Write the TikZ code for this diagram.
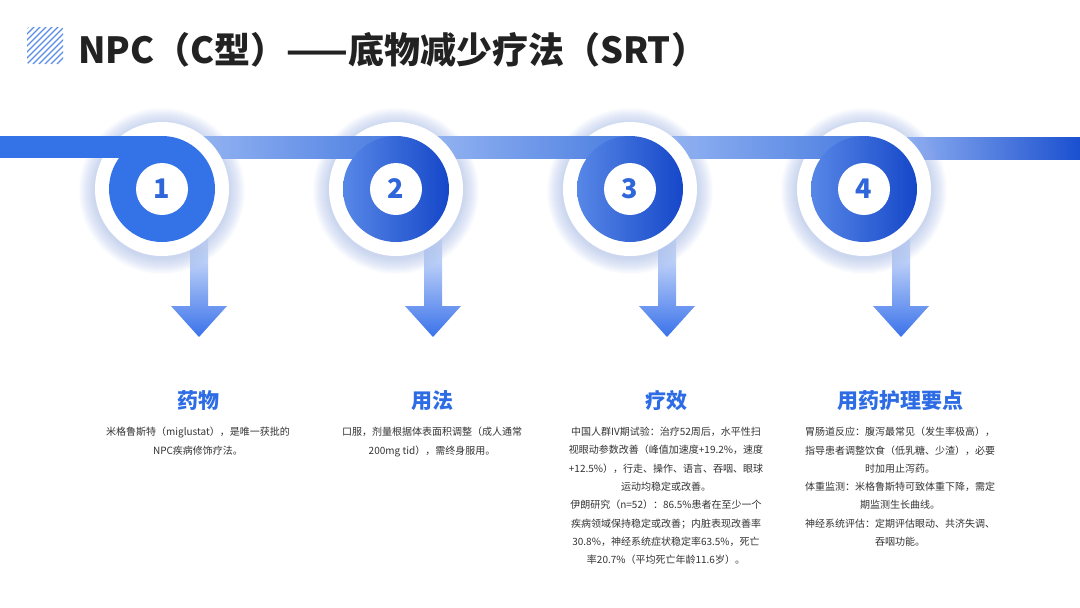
\documentclass[tikz,border=0pt]{standalone}
\usepackage{fontspec}
\setmainfont{Noto Sans CJK SC}
\usetikzlibrary{calc}
\definecolor{titlegray}{HTML}{222222}
\definecolor{bodygray}{HTML}{333333}
\definecolor{headblue}{HTML}{2D6CE4}
\definecolor{numblue}{HTML}{2F66DA}
\definecolor{iconblue}{HTML}{5B8EE6}
\definecolor{diskone}{HTML}{3472E8}
\definecolor{diskL}{HTML}{5787E6}
\definecolor{diskR}{HTML}{1547C9}
\definecolor{bandL}{HTML}{96B5F3}
\definecolor{bandR}{HTML}{4A7DE0}
\definecolor{bandEnd}{HTML}{1A4FCF}
\definecolor{glowc}{HTML}{9FB6EF}
\definecolor{arrTop}{HTML}{E8EFFD}
\definecolor{arrMid}{HTML}{A9C2F6}
\definecolor{arrBot}{HTML}{3A72EA}
\newcommand\myhalo[2]{%
  \foreach \r in {68,69,...,83} {\fill[glowc, fill opacity=0.038] (#1,#2+2) circle (\r pt);}
  \fill[white] (#1,#2) circle (67pt);
}
\begin{document}
\begin{tikzpicture}[x=1pt,y=-1pt,
  head/.style={inner sep=0, text=headblue, font=\fontsize{21}{21}\selectfont\bfseries},
  body/.style={inner sep=0, anchor=north, align=center, text=bodygray, font=\fontsize{10}{18.3}\selectfont},
  numnode/.style={circle, fill=white, minimum size=52pt, inner sep=0, text=numblue, font=\fontsize{27}{27}\selectfont\bfseries},
  arrowshape/.style={top color=arrTop, middle color=arrMid, bottom color=arrBot}]
\useasboundingbox (0,0) rectangle (1080,608);
\fill[white] (0,0) rectangle (1080,608);

% title icon
\begin{scope}
\clip[rounded corners=1.5pt] (27,27) rectangle (63,64);
\foreach \k in {-42,-36,...,40} {\draw[iconblue, line width=1.3pt] (27+\k,64) -- ++(42,-42);}
\end{scope}
\node[anchor=base west, inner sep=0, text=titlegray, font=\fontsize{36}{36}\selectfont\bfseries] (title) at (78,63) {NPC（C型）——底物减少疗法（SRT）};

% arrows
\foreach \i in {0,...,3} {
  \pgfmathsetmacro\ax{199+234*\i}
  \shade[arrowshape] (\ax-9,235) -- (\ax+9,235) -- (\ax+9,306) -- (\ax+28,306) -- (\ax,337) -- (\ax-28,306) -- (\ax-9,306) -- cycle;
}

% band and halos (layered)
\shade[left color=bandL, right color=bandEnd] (894,137) rectangle (1080,159);
\myhalo{864}{189}
\shade[left color=bandL, right color=bandR] (660,136) rectangle (864,158);
\myhalo{630}{189}
\shade[left color=bandL, right color=bandR] (426,136) rectangle (630,158);
\myhalo{396}{189}
\shade[left color=bandL, right color=bandR] (192,136) rectangle (396,158);
\myhalo{162}{189}
\fill[diskone] (0,136) rectangle (162,158);

% disks
\fill[diskone] (162,189) circle (53pt);
\shade[left color=diskL, right color=diskR] (396,189) circle (53pt);
\shade[left color=diskL, right color=diskR] (630,189) circle (53pt);
\shade[left color=diskL, right color=diskR] (864,189) circle (53pt);
\node[numnode] (n1) at (162,189) {1};
\node[numnode] (n2) at (396,189) {2};
\node[numnode] (n3) at (630,189) {3};
\node[numnode] (n4) at (864,189) {4};

% headings
\node[head] (h1) at (198,401) {药物};
\node[head] (h2) at (432,401) {用法};
\node[head] (h3) at (666,401) {疗效};
\node[head] (h4) at (900,401) {用药护理要点};

% bodies
\node[body] (b1) at (198,427) {米格鲁斯特（miglustat），是唯一获批的\\NPC疾病修饰疗法。};
\node[body] (b2) at (432,427) {口服，剂量根据体表面积调整（成人通常\\200mg tid），需终身服用。};
\node[body] (b3) at (666,427) {中国人群IV期试验：治疗52周后，水平性扫\\视眼动参数改善（峰值加速度+19.2\%，速度\\+12.5\%），行走、操作、语言、吞咽、眼球\\运动均稳定或改善。\\伊朗研究（n=52）：86.5\%患者在至少一个\\疾病领域保持稳定或改善；内脏表现改善率\\30.8\%，神经系统症状稳定率63.5\%，死亡\\率20.7\%（平均死亡年龄11.6岁）。};
\node[body] (b4) at (900,427) {胃肠道反应：腹泻最常见（发生率极高），\\指导患者调整饮食（低乳糖、少渣），必要\\时加用止泻药。\\体重监测：米格鲁斯特可致体重下降，需定\\期监测生长曲线。\\神经系统评估：定期评估眼动、共济失调、\\吞咽功能。};
\end{tikzpicture}
\end{document}
